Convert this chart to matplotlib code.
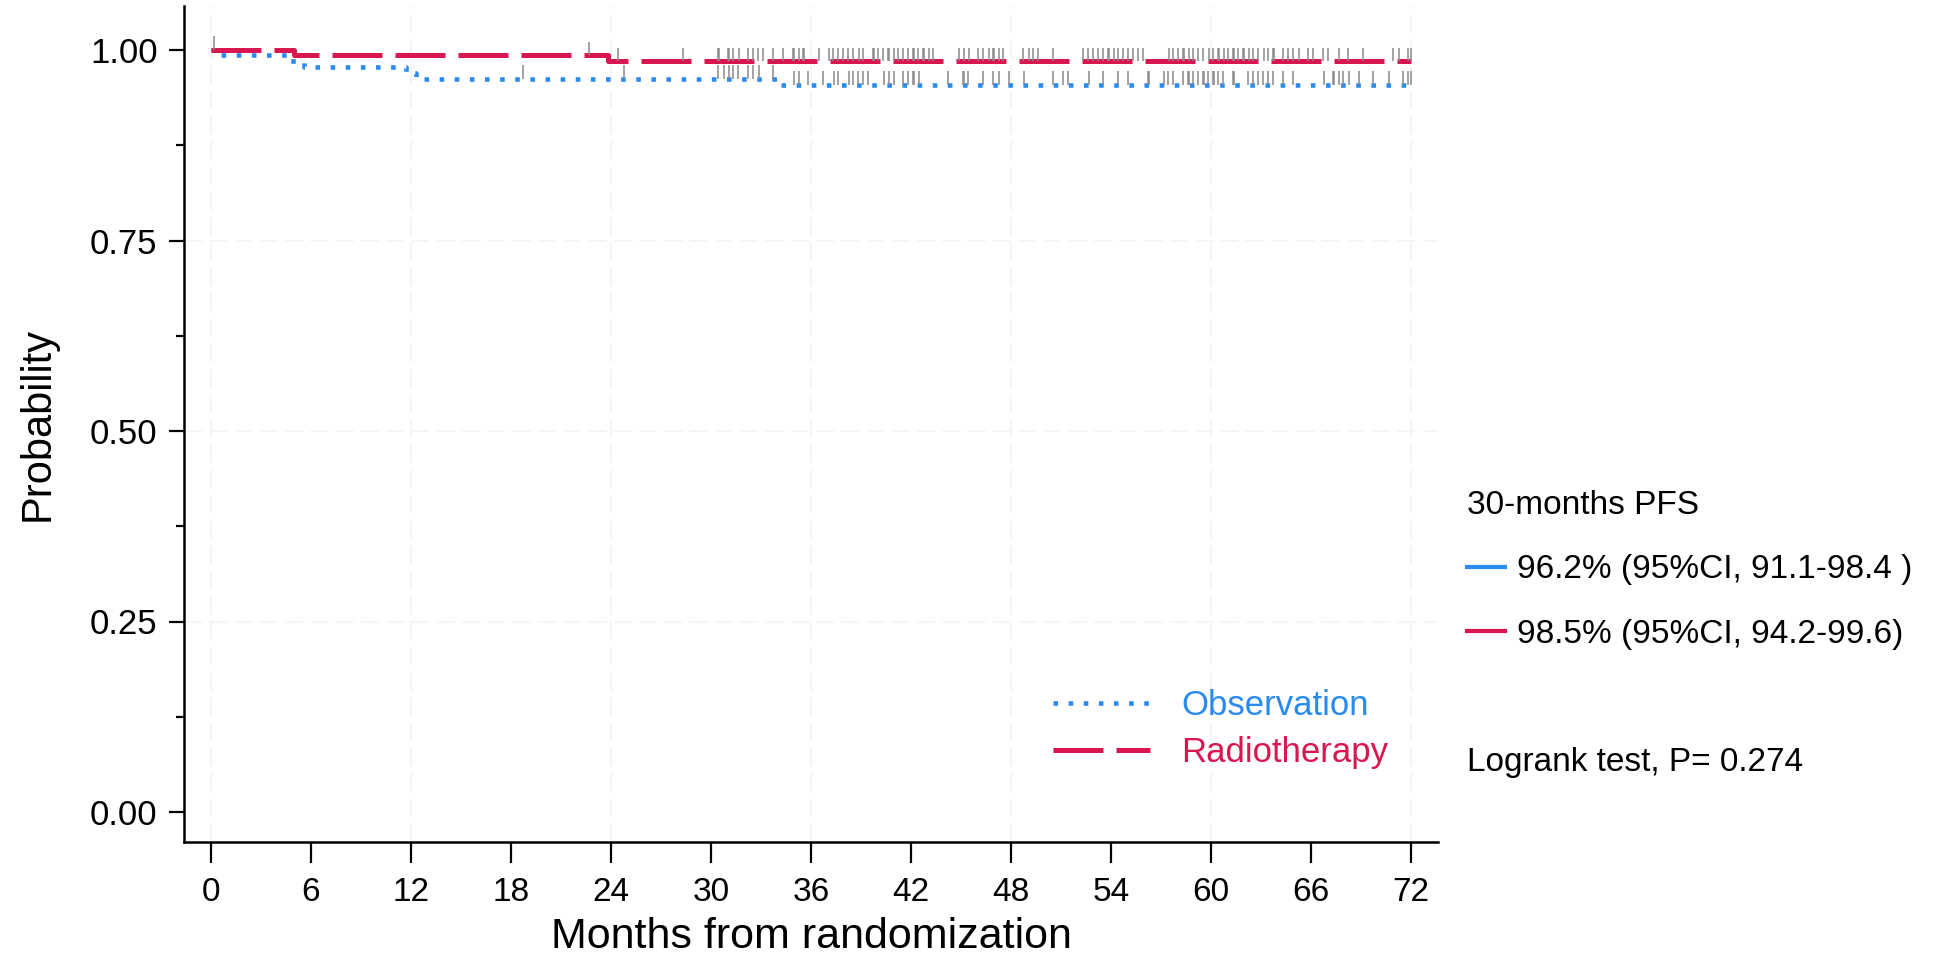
import numpy as np
import matplotlib.pyplot as plt
from matplotlib.lines import Line2D

plt.rcParams['font.family'] = ['Liberation Sans', 'DejaVu Sans']

# Kaplan-Meier steps (months, survival after the event)
obs_event_t = [0.0, 0.3, 4.6, 5.6, 11.7, 12.3, 34.1]
obs_event_s = [1.0, 0.993, 0.985, 0.978, 0.970, 0.962, 0.954]
rt_event_t = [0.0, 5.0, 23.8]
rt_event_s = [1.0, 0.993, 0.985]

# censoring times (months)
obs_censor = [18.7, 24.8, 30.4, 30.8, 31.1, 31.3, 31.6, 32.2, 32.5, 32.9, 33.7,
              35.0, 35.3, 35.8, 36.7, 37.4, 37.6, 38.3, 38.5, 38.8, 39.1, 39.4,
              40.4, 40.7, 41.0, 41.5, 41.8, 42.1, 42.2, 42.5, 44.2, 45.1, 45.2,
              45.4, 46.3, 46.9, 47.3, 47.9, 48.8, 50.5, 51.1, 51.4, 52.7, 53.5,
              54.4, 55.0, 56.2, 56.3, 57.2, 57.4, 57.7, 58.3, 58.6, 58.7, 58.9,
              59.2, 59.5, 59.6, 59.8, 60.1, 60.2, 60.4, 60.7, 61.3, 61.4, 62.2,
              62.5, 62.8, 63.1, 63.4, 63.7, 64.3, 64.9, 66.8, 67.3, 67.4, 67.7,
              67.9, 68.3, 68.9, 69.7, 70.7, 71.5, 71.8, 72.0]
rt_censor = [0.2, 22.7, 24.4, 28.3, 30.4, 30.5, 31.0, 31.1, 31.3, 31.7, 32.2,
             32.5, 32.8, 33.1, 33.7, 34.3, 34.9, 35.0, 35.3, 35.5, 35.6, 36.5,
             37.1, 37.3, 37.6, 37.9, 38.2, 38.5, 38.9, 39.1, 39.7, 39.8, 40.0,
             40.3, 40.6, 40.7, 41.0, 41.2, 41.5, 41.8, 42.1, 42.2, 42.4, 42.7,
             42.8, 43.1, 43.3, 44.9, 45.2, 45.5, 46.0, 46.3, 46.7, 46.9, 47.0,
             47.3, 47.5, 48.7, 49.1, 49.3, 49.6, 50.5, 52.3, 52.6, 52.9, 53.2,
             53.5, 53.8, 53.9, 54.2, 54.4, 54.7, 55.0, 55.3, 55.6, 55.9, 57.5,
             57.7, 58.0, 58.3, 58.4, 58.7, 58.9, 59.2, 59.5, 59.9, 60.1, 60.4,
             60.5, 60.8, 61.0, 61.3, 61.4, 61.6, 61.9, 62.0, 62.3, 62.5, 62.8,
             63.2, 63.4, 63.7, 63.8, 64.3, 64.6, 64.9, 65.3, 65.8, 66.1, 66.7,
             67.0, 67.7, 68.2, 69.1, 70.9, 71.3, 71.8, 72.0]

t_end = 72.0
x_ticks = np.arange(0, 73, 6)
y_ticks = [0.0, 0.25, 0.5, 0.75, 1.0]
groups = ['Observation', 'Radiotherapy']
pfs_labels = ['96.2% (95%CI, 91.1-98.4 )', '98.5% (95%CI, 94.2-99.6)']
logrank_label = 'Logrank test, P= 0.274'

c_obs = '#2A8AF0'
c_rt = '#D8164F'
c_cens = '#8a8a8a'

W, H, DPI = 1947, 961, 100
fig = plt.figure(figsize=(W / DPI, H / DPI), dpi=DPI)
ax = fig.add_axes([184 / W, 1 - 842 / H, (1438 - 184) / W, (842 - 6) / H])


def km_curve(ev_t, ev_s):
    x = list(ev_t) + [t_end]
    y = list(ev_s) + [ev_s[-1]]
    return x, y


def surv_at(ev_t, ev_s, t):
    idx = np.searchsorted(ev_t, t, side='right') - 1
    return np.asarray(ev_s)[idx]


# faint grid
for gx in np.arange(0, 73, 12):
    ax.axvline(gx, color='#f3f3f3', lw=1.3, dashes=(10, 4), zorder=0)
for gy in [0.25, 0.5, 0.75]:
    ax.axhline(gy, color='#f5f5f5', lw=1.3, dashes=(10, 4), zorder=0)

ox, oy = km_curve(obs_event_t, obs_event_s)
rx, ry = km_curve(rt_event_t, rt_event_s)
l_obs, = ax.step(ox, oy, where='post', color=c_obs, lw=3.3, dashes=(1, 2.3),
                 dash_capstyle='butt', label=groups[0], zorder=3)
l_rt, = ax.step(rx, ry, where='post', color=c_rt, lw=3.6, dashes=(10, 2.6),
                dash_capstyle='butt', label=groups[1], zorder=3)

# censor ticks sitting on each curve
tick_h = 0.018
s_obs = surv_at(obs_event_t, obs_event_s, obs_censor)
s_rt = surv_at(rt_event_t, rt_event_s, rt_censor)
ax.vlines(obs_censor, s_obs, s_obs + tick_h, color=c_cens, lw=1.1, zorder=4)
ax.vlines(rt_censor, s_rt, s_rt + tick_h, color=c_cens, lw=1.1, zorder=4)

ax.set_xlim((184 - 211) / 16.667, (1438 - 211) / 16.667)
ax.set_ylim(-30 / 762, 1 + 44 / 762)
ax.set_xticks(x_ticks)
ax.set_yticks(y_ticks)
ax.set_yticklabels(['%.2f' % v for v in y_ticks])
ax.set_yticks([0.125, 0.375, 0.625, 0.875], minor=True)
ax.spines['top'].set_visible(False)
ax.spines['right'].set_visible(False)
for sp in ['left', 'bottom']:
    ax.spines[sp].set_linewidth(1.8)
ax.tick_params(axis='y', which='major', length=11, width=1.6, pad=8, labelsize=25)
ax.tick_params(axis='y', which='minor', length=6, width=1.6)
ax.tick_params(axis='x', which='major', length=15, width=1.6, pad=10, labelsize=24)

ax.set_xlabel('Months from randomization', fontsize=31)
ax.xaxis.set_label_coords(0.5, -0.1136)
ax.xaxis.label.set_va('center')
ax.set_ylabel('Probability', fontsize=30)
ax.yaxis.set_label_coords(-0.117, 0.5)
ax.yaxis.label.set_va('center')

leg = ax.legend(handles=[l_obs, l_rt], loc='center left',
                bbox_to_anchor=((1053 - 184) / 1254, (842 - 729) / 836),
                frameon=False, fontsize=25, handlelength=2.8, handletextpad=0.9,
                labelspacing=0.42, borderpad=0, borderaxespad=0,
                labelcolor='linecolor')

# PFS summary beside the plot
pfs_handles = [Line2D([], [], color=c_obs, lw=3),
               Line2D([], [], color=c_rt, lw=3)]
fig.legend(handles=pfs_handles, labels=pfs_labels, title='30-months PFS',
           loc='upper left', bbox_to_anchor=(1467 / W, 1 - 490 / H),
           frameon=False, fontsize=24, title_fontsize=24, alignment='left',
           handlelength=1.15, handletextpad=0.36, labelspacing=1.0,
           borderpad=0, borderaxespad=0)
fig.text(1467 / W, 1 - 762 / H, logrank_label, fontsize=24, va='center', ha='left')

fig.savefig('out.png', dpi=DPI, facecolor='white')
